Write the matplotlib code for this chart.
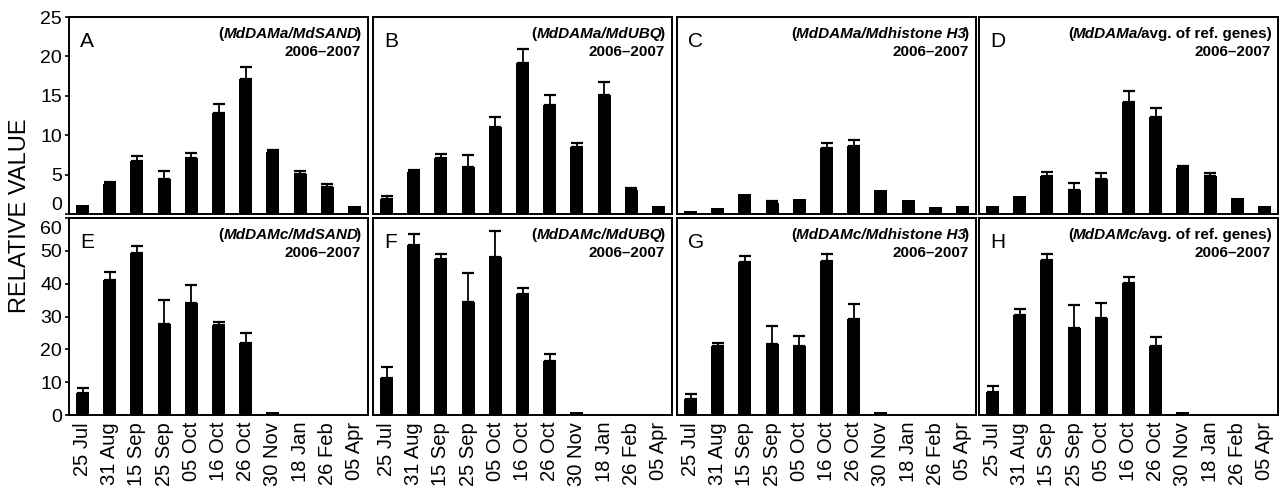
import numpy as np
import matplotlib
matplotlib.use('Agg')
import matplotlib.pyplot as plt
import matplotlib.transforms as mtransforms

plt.rcParams['font.family'] = ['Liberation Sans', 'DejaVu Sans']

dates = ['25 Jul', '31 Aug', '15 Sep', '25 Sep', '05 Oct', '16 Oct',
         '26 Oct', '30 Nov', '18 Jan', '26 Feb', '05 Apr']

# MdDAMa (top row)
dama_sand = [1.1, 3.8, 6.7, 4.5, 7.1, 12.8, 17.1, 7.9, 5.1, 3.4, 1.0]
dama_sand_err = [0, 0.3, 0.6, 0.9, 0.7, 1.1, 1.5, 0.2, 0.3, 0.4, 0]
dama_ubq = [1.9, 5.3, 7.1, 6.0, 11.0, 19.1, 13.8, 8.5, 15.1, 3.0, 1.0]
dama_ubq_err = [0.4, 0.3, 0.5, 1.5, 1.3, 1.8, 1.3, 0.5, 1.6, 0.3, 0]
dama_h3 = [0.4, 0.8, 2.6, 1.4, 1.9, 8.4, 8.6, 3.0, 1.8, 0.9, 1.0]
dama_h3_err = [0, 0, 0, 0.3, 0, 0.6, 0.8, 0, 0, 0, 0]
dama_avg = [1.0, 2.3, 4.8, 3.0, 4.5, 14.2, 12.3, 5.9, 4.8, 2.0, 1.0]
dama_avg_err = [0, 0, 0.5, 0.9, 0.7, 1.4, 1.1, 0.2, 0.4, 0, 0]

# MdDAMc (bottom row)
damc_sand = [6.6, 41.0, 49.4, 27.7, 34.0, 27.4, 22.0, 1.0, 0, 0, 0]
damc_sand_err = [1.5, 2.7, 2.1, 7.2, 5.5, 0.9, 3.0, 0, 0, 0, 0]
damc_ubq = [11.4, 51.8, 47.6, 34.3, 48.2, 37.0, 16.3, 1.0, 0, 0, 0]
damc_ubq_err = [3.1, 3.3, 1.5, 8.8, 7.8, 1.6, 2.4, 0, 0, 0, 0]
damc_h3 = [4.8, 21.1, 46.7, 21.7, 21.1, 47.0, 29.2, 1.0, 0, 0, 0]
damc_h3_err = [1.5, 0.9, 1.8, 5.4, 3.0, 2.1, 4.5, 0, 0, 0, 0]
damc_avg = [7.0, 30.4, 47.3, 26.5, 29.5, 40.1, 21.1, 1.0, 0, 0, 0]
damc_avg_err = [1.7, 1.8, 1.8, 6.9, 4.5, 1.8, 2.7, 0, 0, 0, 0]

letters = ['A', 'B', 'C', 'D', 'E', 'F', 'G', 'H']
gene = ['MdDAMa', 'MdDAMa', 'MdDAMa', 'MdDAMa', 'MdDAMc', 'MdDAMc', 'MdDAMc', 'MdDAMc']
refs = ['MdSAND', 'MdUBQ', 'Mdhistone H3', 'avg. of ref. genes'] * 2
values = [dama_sand, dama_ubq, dama_h3, dama_avg, damc_sand, damc_ubq, damc_h3, damc_avg]
errors = [dama_sand_err, dama_ubq_err, dama_h3_err, dama_avg_err,
          damc_sand_err, damc_ubq_err, damc_h3_err, damc_avg_err]

W, H = 1280, 488
fig = plt.figure(figsize=(W / 100, H / 100), dpi=100)
fig.patch.set_facecolor('#ffffff')

lefts = [69, 373, 677, 979]
pw = 299
rows = [(17, 214), (218, 415)]
hsize = 11


def header(ax, parts, y):
    # draw pieces right to left so mixed italic/regular line up
    prev = None
    for txt, style in reversed(parts):
        if prev is None:
            prev = ax.text(0.978, y, txt, transform=ax.transAxes, ha='right',
                           va='bottom', fontsize=hsize, fontweight='bold',
                           fontstyle=style)
        else:
            shift = 1.5 if style == 'italic' else 0
            prev = ax.annotate(txt, xy=(0, 0), xycoords=prev, xytext=(shift, 0),
                               textcoords='offset points', ha='right',
                               va='bottom', fontsize=hsize, fontweight='bold',
                               fontstyle=style)


x = np.arange(len(dates))
for i in range(8):
    r, c = divmod(i, 4)
    top, bot = rows[r]
    ax = fig.add_axes([lefts[c] / W, 1 - bot / H, pw / W, (bot - top) / H])
    v = np.array(values[i])
    e = np.array(errors[i])
    ax.bar(x, v, width=0.48, color='black', zorder=2)
    m = e > 0
    ax.errorbar(x[m], v[m], yerr=[np.zeros(m.sum()), e[m]], fmt='none',
                ecolor='black', elinewidth=1.3, capsize=4.6, capthick=1.6,
                zorder=1)
    ax.set_xlim(-0.5, len(dates) - 0.5)
    for s in ax.spines.values():
        s.set_linewidth(1.4)
    if r == 0:
        ax.set_ylim(0, 25)
        ax.set_yticks(np.arange(0, 26, 5))
        ax.set_xticks(x)
        ax.set_xticklabels([])
    else:
        ax.set_ylim(0, 60)
        ax.set_yticks(np.arange(0, 61, 10))
        ax.set_xticks(x)
        ax.set_xticklabels(dates, rotation=90, fontsize=14.5)
    ax.tick_params(axis='x', length=0, pad=5)
    ax.tick_params(axis='y', length=3, width=1.2, pad=2, labelsize=14)
    if c != 0:
        ax.set_yticklabels([])
        ax.tick_params(axis='y', length=0)
    else:
        labs = ax.get_yticklabels()
        if r == 0:
            off = mtransforms.ScaledTranslation(0, 11 / 100, fig.dpi_scale_trans)
            labs[0].set_transform(labs[0].get_transform() + off)
        else:
            off = mtransforms.ScaledTranslation(0, -10 / 100, fig.dpi_scale_trans)
            labs[-1].set_transform(labs[-1].get_transform() + off)

    ax.text(0.037, 0.85, letters[i], transform=ax.transAxes, fontsize=15,
            ha='left', va='baseline')
    if refs[i].startswith('avg'):
        parts = [('(', 'normal'), (gene[i] + '/', 'italic'), (refs[i] + ')', 'normal')]
    else:
        parts = [('(', 'normal'), (gene[i] + '/' + refs[i], 'italic'), (')', 'normal')]
    header(ax, parts, 0.88)
    ax.text(0.975, 0.80, '2006\u20132007', transform=ax.transAxes, ha='right',
            va='baseline', fontsize=hsize, fontweight='bold')

fig.text(20 / W, 1 - 216 / H, 'RELATIVE VALUE', rotation=90, ha='center',
         va='center', fontsize=17)

fig.savefig('out.png', dpi=100)
